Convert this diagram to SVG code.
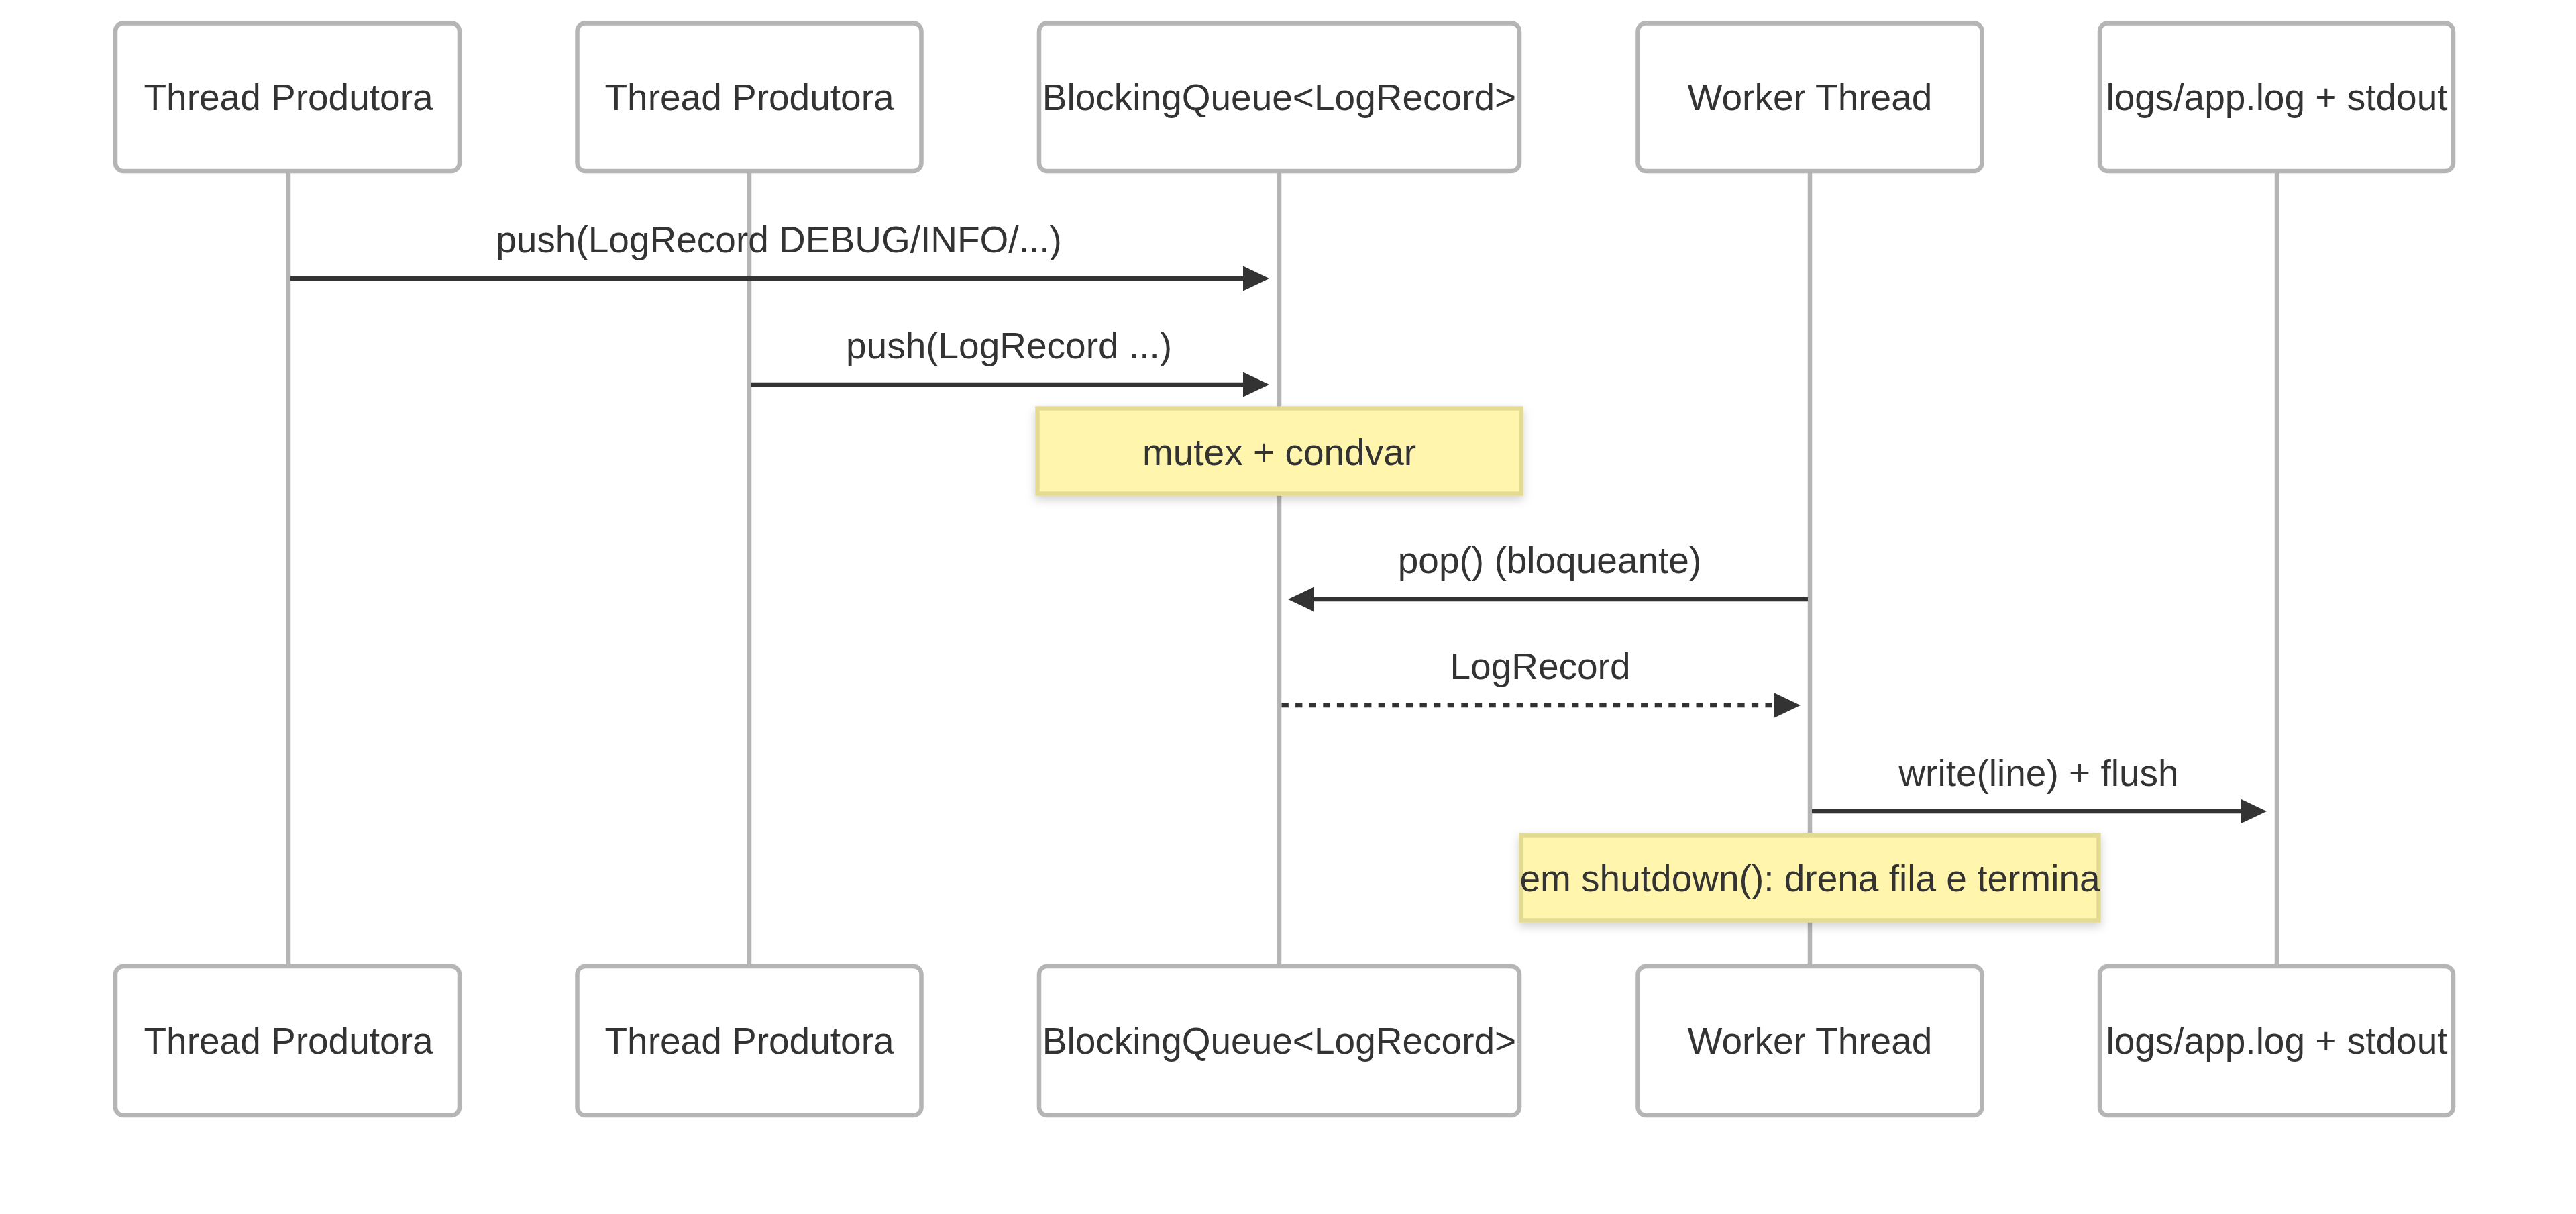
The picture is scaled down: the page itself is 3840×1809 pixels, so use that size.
<svg xmlns="http://www.w3.org/2000/svg" width="3840" height="1809" viewBox="0 0 3840 1809">
<style>
.actor{fill:#ffffff;stroke:#b5b5b5;stroke-width:6.5}
.life{stroke:#b5b5b5;stroke-width:6.5;fill:none}
.lbl{font-family:"Liberation Sans",Arial,sans-serif;font-size:55px;fill:#333333;text-anchor:middle}
.msg{stroke:#333333;stroke-width:6.5;fill:none}
.dash{stroke-dasharray:10.3 10.3}
.note{fill:#fff5ad;stroke:#e4db93;stroke-width:6.5}
</style>
<defs>
<marker id="ah" markerUnits="userSpaceOnUse" markerWidth="40" markerHeight="38" refX="19" refY="18.5" orient="auto">
<path d="M0,0 L39,18.5 L0,37 z" fill="#333333"/>
</marker>
<filter id="sh" x="-10%" y="-20%" width="120%" height="150%">
<feDropShadow dx="0" dy="6" stdDeviation="7" flood-color="#000000" flood-opacity="0.18"/>
</filter>
</defs>
<rect width="3840" height="1809" fill="#ffffff"/>
<g id="lifelines">
<line class="life" x1="430" y1="257" x2="430" y2="1440"/>
<line class="life" x1="1117" y1="257" x2="1117" y2="1440"/>
<line class="life" x1="1907" y1="257" x2="1907" y2="1440"/>
<line class="life" x1="2698" y1="257" x2="2698" y2="1440"/>
<line class="life" x1="3394" y1="257" x2="3394" y2="1440"/>
</g>
<g id="actor-p1-top"><rect class="actor" x="172" y="34.5" width="513" height="220.5" rx="12"/><text class="lbl" x="430" y="164">Thread Produtora</text></g>
<g id="actor-p2-top"><rect class="actor" x="860.5" y="34.5" width="513" height="220.5" rx="12"/><text class="lbl" x="1117" y="164">Thread Produtora</text></g>
<g id="actor-q-top"><rect class="actor" x="1549" y="34.5" width="716" height="220.5" rx="12"/><text class="lbl" x="1907" y="164">BlockingQueue&lt;LogRecord&gt;</text></g>
<g id="actor-w-top"><rect class="actor" x="2441.5" y="34.5" width="513" height="220.5" rx="12"/><text class="lbl" x="2698" y="164">Worker Thread</text></g>
<g id="actor-l-top"><rect class="actor" x="3130" y="34.5" width="527" height="220.5" rx="12"/><text class="lbl" x="3394" y="164">logs/app.log + stdout</text></g>
<g id="note1"><rect class="note" x="1546.5" y="608.5" width="721" height="127" filter="url(#sh)"/><text class="lbl" x="1907" y="693">mutex + condvar</text></g>
<g id="note2"><rect class="note" x="2267.5" y="1244.5" width="861" height="127" filter="url(#sh)"/><text class="lbl" x="2698" y="1328">em shutdown(): drena fila e termina</text></g>
<g id="connectors">
<line class="msg" x1="433" y1="415" x2="1872" y2="415" marker-end="url(#ah)"/>
<text class="lbl" x="1161" y="376">push(LogRecord DEBUG/INFO/...)</text>
<line class="msg" x1="1120" y1="573" x2="1872" y2="573" marker-end="url(#ah)"/>
<text class="lbl" x="1504" y="534">push(LogRecord ...)</text>
<line class="msg" x1="2695" y1="893" x2="1940" y2="893" marker-end="url(#ah)"/>
<text class="lbl" x="2310" y="854">pop() (bloqueante)</text>
<line class="msg dash" x1="1910.5" y1="1051" x2="2664" y2="1051" marker-end="url(#ah)"/>
<text class="lbl" x="2296" y="1012">LogRecord</text>
<line class="msg" x1="2701" y1="1209" x2="3359" y2="1209" marker-end="url(#ah)"/>
<text class="lbl" x="3039" y="1171">write(line) + flush</text>
</g>
<g id="actor-p1-bot"><rect class="actor" x="172" y="1440" width="513" height="222" rx="12"/><text class="lbl" x="430" y="1570">Thread Produtora</text></g>
<g id="actor-p2-bot"><rect class="actor" x="860.5" y="1440" width="513" height="222" rx="12"/><text class="lbl" x="1117" y="1570">Thread Produtora</text></g>
<g id="actor-q-bot"><rect class="actor" x="1549" y="1440" width="716" height="222" rx="12"/><text class="lbl" x="1907" y="1570">BlockingQueue&lt;LogRecord&gt;</text></g>
<g id="actor-w-bot"><rect class="actor" x="2441.5" y="1440" width="513" height="222" rx="12"/><text class="lbl" x="2698" y="1570">Worker Thread</text></g>
<g id="actor-l-bot"><rect class="actor" x="3130" y="1440" width="527" height="222" rx="12"/><text class="lbl" x="3394" y="1570">logs/app.log + stdout</text></g>
</svg>
